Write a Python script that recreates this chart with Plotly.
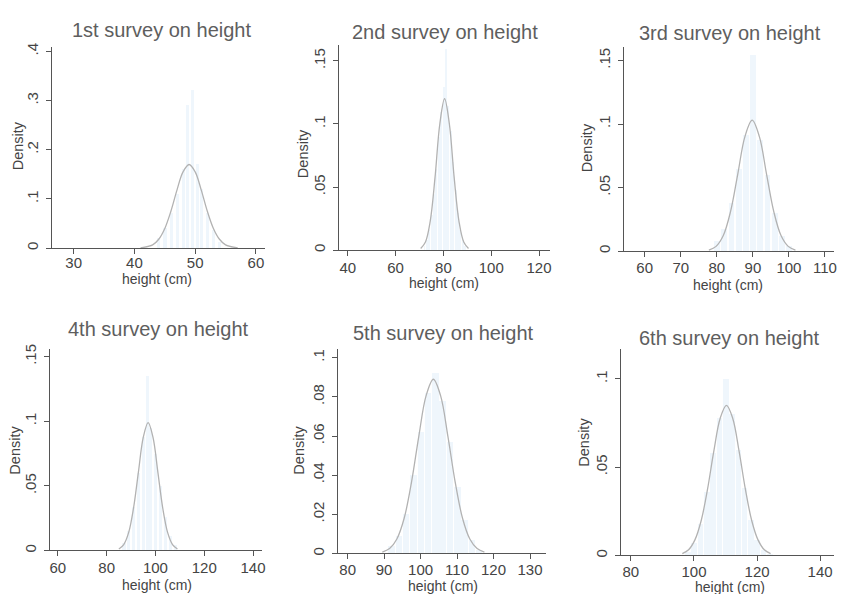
import plotly.graph_objects as go

W, H = 842, 594

# ---------------- data ----------------
titles = ["1st survey on height", "2nd survey on height", "3rd survey on height",
          "4th survey on height", "5th survey on height", "6th survey on height"]

# normal-density overlay, points
curve1_x = [41, 43, 44, 45, 46, 47, 48, 49, 50, 51, 52, 53, 54, 55, 57]
curve1_y = [0.0005, 0.0065, 0.018, 0.040, 0.075, 0.118, 0.155, 0.170, 0.155, 0.118, 0.075, 0.040, 0.018, 0.0065, 0.0005]
curve2_x = [70.5, 72.5, 74.5, 76.5, 78.5, 80.5, 82.5, 84.5, 86.5, 88.5, 90.5]
curve2_y = [0.0012, 0.0064, 0.023, 0.0576, 0.100, 0.120, 0.100, 0.0576, 0.023, 0.0064, 0.0012]
curve3_x = [77.8, 79.8, 81.8, 83.8, 85.8, 87.8, 89.8, 91.8, 93.8, 95.8, 97.8, 99.8, 101.8]
curve3_y = [0.0008, 0.0037, 0.0122, 0.031, 0.0604, 0.0901, 0.103, 0.0901, 0.0604, 0.031, 0.0122, 0.0037, 0.0008]
curve4_x = [85, 87, 89, 91, 93, 95, 97, 99, 101, 103, 105, 107, 109]
curve4_y = [0.0012, 0.0046, 0.0138, 0.0327, 0.0605, 0.0875, 0.099, 0.0875, 0.0605, 0.0327, 0.0138, 0.0046, 0.0012]
curve5_x = [89.5, 91.5, 93.5, 95.5, 97.5, 99.5, 101.5, 103.5, 105.5, 107.5, 109.5, 111.5, 113.5, 115.5, 117.5]
curve5_y = [0.0007, 0.0025, 0.0074, 0.018, 0.0363, 0.0597, 0.0805, 0.089, 0.0805, 0.0597, 0.0363, 0.018, 0.0074, 0.0025, 0.0007]
curve6_x = [96.3, 98.3, 100.3, 102.3, 104.3, 106.3, 108.3, 110.3, 112.3, 114.3, 116.3, 118.3, 120.3, 122.3, 124.3]
curve6_y = [0.001, 0.0032, 0.0088, 0.0198, 0.0375, 0.0591, 0.0776, 0.085, 0.0776, 0.0591, 0.0375, 0.0198, 0.0088, 0.0032, 0.001]

# faint histogram bars (bin centres and densities)
hist1_x = [44, 45, 46, 47, 48, 48.7, 49.5, 50.3, 51, 52, 53, 54]
hist1_y = [0.02, 0.04, 0.07, 0.11, 0.16, 0.29, 0.32, 0.17, 0.12, 0.07, 0.035, 0.012]
hist2_x = [72, 73, 74, 75, 76, 77, 78, 79, 80, 81, 82, 83, 84, 85, 86, 87, 88, 89]
hist2_y = [0.004, 0.008, 0.016, 0.028, 0.045, 0.065, 0.09, 0.11, 0.13, 0.16, 0.115, 0.095, 0.07, 0.048, 0.03, 0.016, 0.008, 0.004]
hist3_x = [80, 82, 84, 86, 88, 90, 92, 94, 96, 98, 100]
hist3_y = [0.008, 0.018, 0.038, 0.065, 0.092, 0.155, 0.088, 0.06, 0.03, 0.012, 0.004]
hist4_x = [87, 89, 91, 93, 95, 96.5, 98, 100, 102, 104, 106, 108]
hist4_y = [0.006, 0.015, 0.034, 0.06, 0.088, 0.135, 0.095, 0.075, 0.05, 0.026, 0.011, 0.004]
hist5_x = [92, 94, 96, 98, 100, 102, 104, 106, 108, 110, 112, 114, 116]
hist5_y = [0.004, 0.009, 0.02, 0.04, 0.062, 0.082, 0.092, 0.078, 0.057, 0.034, 0.017, 0.007, 0.002]
hist6_x = [98, 100, 102, 104, 106, 108, 110, 112, 114, 116, 118, 120, 122, 124]
hist6_y = [0.002, 0.007, 0.018, 0.036, 0.058, 0.078, 0.1, 0.08, 0.06, 0.038, 0.02, 0.009, 0.003, 0.001]

# axis ticks
xticks = [[30, 40, 50, 60], [40, 60, 80, 100, 120], [60, 70, 80, 90, 100, 110],
          [60, 80, 100, 120, 140], [80, 90, 100, 110, 120, 130], [80, 100, 120, 140]]
yticks = [[0, 0.1, 0.2, 0.3, 0.4], [0, 0.05, 0.1, 0.15], [0, 0.05, 0.1, 0.15],
          [0, 0.05, 0.1, 0.15], [0, 0.02, 0.04, 0.06, 0.08, 0.1], [0, 0.05, 0.1]]
ytick_text = [["0", ".1", ".2", ".3", ".4"], ["0", ".05", ".1", ".15"], ["0", ".05", ".1", ".15"],
              ["0", ".05", ".1", ".15"], ["0", ".02", ".04", ".06", ".08", ".1"], ["0", ".05", ".1"]]
xranges = [[26.4, 61.5], [36.25, 124.6], [54.2, 112.5], [56.7, 143.7], [77.3, 134.4], [76.8, 144.4]]
yranges = [[0, 0.408], [0, 0.163], [0, 0.161], [0, 0.156], [0, 0.1045], [0, 0.117]]
hist_w = [0.5, 0.8, 1.6, 1.3, 1.8, 1.8]

curves = [(curve1_x, curve1_y), (curve2_x, curve2_y), (curve3_x, curve3_y),
          (curve4_x, curve4_y), (curve5_x, curve5_y), (curve6_x, curve6_y)]
hists = [(hist1_x, hist1_y), (hist2_x, hist2_y), (hist3_x, hist3_y),
         (hist4_x, hist4_y), (hist5_x, hist5_y), (hist6_x, hist6_y)]

# ---------------- layout (pixel boxes of each panel) ----------------
# (left, right, top, bottom) in pixels
boxes = [(52, 266, 43, 246), (340, 552, 40, 248), (626, 837, 42, 249),
         (50, 263, 348, 552), (339, 548, 348, 555), (623, 837, 348, 557)]
title_pos = [(162, 25), (447, 27), (733, 28), (159, 328), (445, 332), (732, 337)]
xtitle_pos = [(158, 277), (446, 281), (731, 283), (158, 587), (445, 588), (733, 589)]
ytitle_pos = [(18, 142), (304, 150), (589, 144), (15, 450), (300, 450), (586, 442)]
xlab_standoff = [-4, -1, -2, -1, -2, -2]

FONT = "Liberation Sans, Arial, Helvetica, sans-serif"
fig = go.Figure()
layout = dict(width=W, height=H, margin=dict(l=0, r=0, t=0, b=0),
              paper_bgcolor="white", plot_bgcolor="white", showlegend=False,
              font=dict(family=FONT, color="#444"))
annotations = []

def px(x):
    return x / W

def py(y):
    return 1 - y / H

for i in range(6):
    n = "" if i == 0 else str(i + 1)
    xa, ya = "x" + n, "y" + n
    hx, hy = hists[i]
    fig.add_trace(go.Bar(x=hx, y=hy, width=hist_w[i], xaxis=xa, yaxis=ya,
                         marker=dict(color="rgba(236,245,252,0.85)", line=dict(width=0)),
                         hoverinfo="skip"))
    cx, cy = curves[i]
    fig.add_trace(go.Scatter(x=cx, y=cy, mode="lines", xaxis=xa, yaxis=ya,
                             line=dict(color="#b2b2b2", width=1.3, shape="spline", smoothing=1.0),
                             hoverinfo="skip"))
    l, r, t, b = boxes[i]
    layout["xaxis" + n] = dict(domain=[px(l), px(r)], anchor=ya, range=xranges[i],
                               tickmode="array", tickvals=xticks[i], ticks="outside",
                               ticklen=5, tickwidth=1, tickcolor="#555",
                               showline=True, linecolor="#555", linewidth=1,
                               showgrid=False, zeroline=False,
                               tickfont=dict(size=15, color="#444"),
                               ticklabelstandoff=xlab_standoff[i])
    layout["yaxis" + n] = dict(domain=[py(b), py(t)], anchor=xa, range=yranges[i],
                               tickmode="array", tickvals=yticks[i], ticktext=ytick_text[i],
                               ticks="outside", ticklen=5, tickwidth=1, tickcolor="#555",
                               showline=True, linecolor="#555", linewidth=1,
                               showgrid=False, zeroline=False, tickangle=-90,
                               tickfont=dict(size=15, color="#444"),
                               ticklabelstandoff=2)
    tx, ty = title_pos[i]
    annotations.append(dict(text=titles[i], x=px(tx), y=py(ty), xref="paper", yref="paper",
                            showarrow=False, xanchor="center", yanchor="middle",
                            font=dict(size=20, color="#5e5e5e", family=FONT)))
    hx_, hy_ = xtitle_pos[i]
    annotations.append(dict(text="height (cm)", x=px(hx_), y=py(hy_), xref="paper", yref="paper",
                            showarrow=False, xanchor="center", yanchor="middle",
                            font=dict(size=14, color="#444", family=FONT)))
    dx, dy = ytitle_pos[i]
    annotations.append(dict(text="Density", x=px(dx), y=py(dy), xref="paper", yref="paper",
                            showarrow=False, xanchor="center", yanchor="middle", textangle=-90,
                            font=dict(size=14.5, color="#444", family=FONT)))

layout["annotations"] = annotations
layout["bargap"] = 0
fig.update_layout(**layout)
fig.write_html("out.html")
